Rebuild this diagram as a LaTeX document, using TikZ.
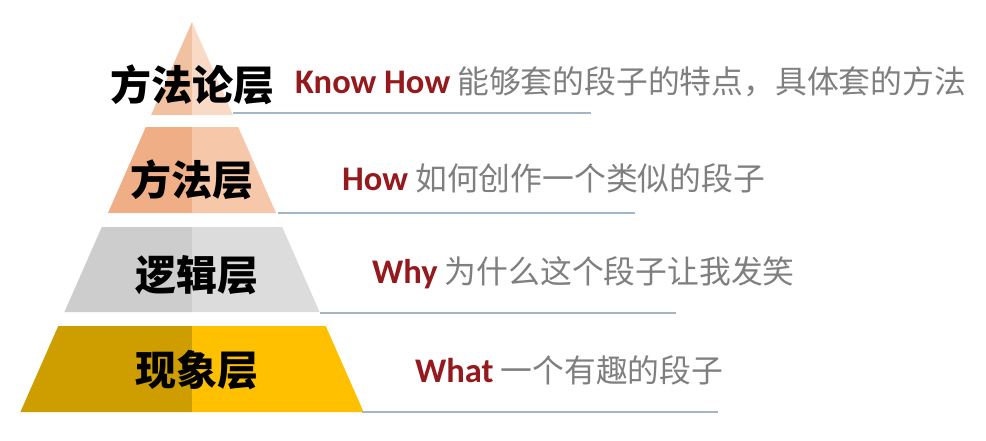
\documentclass[tikz,border=0pt]{standalone}
\usepackage{fontspec}
\setmainfont{Carlito}
\newfontfamily\cjk{Noto Sans CJK SC}
\definecolor{peachA}{HTML}{F1C2A2}
\definecolor{peachB}{HTML}{F8DAC6}
\definecolor{salmonA}{HTML}{F0AE86}
\definecolor{salmonB}{HTML}{F6C7A8}
\definecolor{greyA}{HTML}{CDCDCD}
\definecolor{greyB}{HTML}{DCDCDC}
\definecolor{goldA}{HTML}{CE9E00}
\definecolor{goldB}{HTML}{FFC000}
\definecolor{wordred}{HTML}{951A1E}
\definecolor{wordgrey}{HTML}{7F7F7F}
\definecolor{rulecol}{HTML}{A3B6C6}
\tikzset{
  layer/.style={font=\cjk\bfseries\fontsize{41}{41}\selectfont, text=black, inner sep=0pt},
  desc/.style={anchor=west, inner sep=0pt, text=wordgrey, font=\cjk\fontsize{31.8}{32}\selectfont},
  rule/.style={draw=rulecol, line width=1.2pt}
}
\newcommand{\en}[1]{{\rmfamily\bfseries\fontsize{34.5}{34}\selectfont\color{wordred}#1}}
\begin{document}
\begin{tikzpicture}[x=1pt,y=-1pt]
        \useasboundingbox (0,0) rectangle (986,440);
        %% pyramid, left half darker than right half
        \foreach \t/\b/\cl/\cr in {22/115/peachA/peachB, 127/213/salmonA/salmonB, 227/312/greyA/greyB, 326/412/goldA/goldB} {
            \fill[\cl] ({192-0.44*(\t-22)},\t) -- (192,\t) -- (192,\b) -- ({192-0.44*(\b-22)},\b) -- cycle;
            \fill[\cr] (192,\t) -- ({192+0.44*(\t-22)},\t) -- ({192+0.44*(\b-22)},\b) -- (192,\b) -- cycle;
        }
        %% layer names
        \node[layer] (L1) at (192,85) {方法论层};
        \node[layer] (L2) at (192,180) {方法层};
        \node[layer] (L3) at (197,275) {逻辑层};
        \node[layer] (L4) at (197,370) {现象层};
        %% descriptions
        \node[desc] (D1) at (295,82) {\en{Know How} 能够套的段子的特点，具体套的方法};
        \node[desc] (D2) at (342,178) {\en{How} 如何创作一个类似的段子};
        \node[desc] (D3) at (372,273) {\en{Why} 为什么这个段子让我发笑};
        \node[desc] (D4) at (415,370) {\en{What} 一个有趣的段子};
        %% rules under the descriptions
        \coordinate (R1) at (233,113);
        \coordinate (R2) at (278,213);
        \coordinate (R3) at (320,313);
        \coordinate (R4) at (362,412);
        \draw[rule] (R1) -- ++(358,0);
        \draw[rule] (R2) -- ++(357,0);
        \draw[rule] (R3) -- ++(356,0);
        \draw[rule] (R4) -- ++(356,0);
    \end{tikzpicture}
\end{document}
